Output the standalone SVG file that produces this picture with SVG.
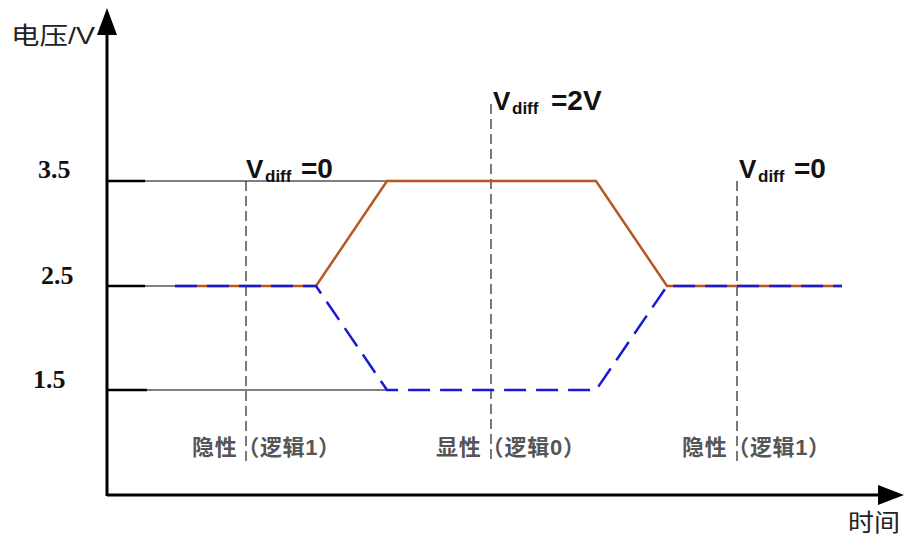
<svg xmlns="http://www.w3.org/2000/svg" width="904" height="535" viewBox="0 0 904 535">
<style>
.ax{stroke:#000;stroke-width:3;fill:none}
.grid{stroke:#000;stroke-width:1;fill:none}
.tick{stroke:#000;stroke-width:2.5}
.vd{stroke:#333;stroke-width:1.3;stroke-dasharray:10 5;fill:none}
.h{stroke:#b5591e;stroke-width:2.5;fill:none}
.l{stroke:#1a1ad6;stroke-width:2.5;stroke-dasharray:22 10;fill:none}
.num{font-family:"Liberation Serif",serif;font-weight:bold;font-size:26px;fill:#111}
.vdf{font-family:"Liberation Sans",Arial,sans-serif;font-weight:bold;font-size:26px;fill:#111}
.sub{font-size:17px}
.eq{font-size:28px}
.cn{font-family:"Liberation Sans","Noto Sans CJK SC",sans-serif;font-size:22px;font-weight:bold;fill:#555}
.ttl{font-family:"Liberation Sans","Noto Sans CJK SC",sans-serif;font-size:24px;fill:#222}
</style>
<g id="axes">
<line class="ax" x1="107" y1="496" x2="107" y2="30"/>
<polygon points="107,8 97,35 117,35" fill="#000"/>
<line class="ax" x1="107" y1="495" x2="880" y2="495"/>
<polygon points="904,495 878,485 878,505" fill="#000"/>
<text class="ttl" x="11" y="44" textLength="84" lengthAdjust="spacingAndGlyphs">电压/V</text>
<text class="ttl" x="848" y="531" textLength="52" lengthAdjust="spacingAndGlyphs">时间</text>
</g>
<g id="levels">
<line class="grid" x1="107" y1="181" x2="388" y2="181"/>
<line class="grid" x1="107" y1="286" x2="176" y2="286"/>
<line class="grid" x1="107" y1="390" x2="388" y2="390"/>
<line class="tick" x1="107" y1="181" x2="145" y2="181"/>
<line class="tick" x1="107" y1="286" x2="145" y2="286"/>
<line class="tick" x1="107" y1="390" x2="147" y2="390"/>
<text class="num" x="38" y="178">3.5</text>
<text class="num" x="41" y="284">2.5</text>
<text class="num" x="33" y="388">1.5</text>
</g>
<g id="markers">
<line class="vd" x1="246" y1="181" x2="246" y2="462"/>
<line class="vd" x1="491" y1="104" x2="491" y2="462"/>
<line class="vd" x1="737" y1="181" x2="737" y2="462"/>
<text class="vdf" y="178"><tspan x="246">V</tspan><tspan class="sub" x="265" y="182">diff</tspan><tspan class="eq" x="301" y="178">=0</tspan></text>
<text class="vdf" y="110"><tspan x="493">V</tspan><tspan class="sub" x="512" y="114">diff</tspan><tspan class="eq" x="551" y="110">=2V</tspan></text>
<text class="vdf" y="178"><tspan x="739">V</tspan><tspan class="sub" x="758" y="182">diff</tspan><tspan class="eq" x="794" y="178">=0</tspan></text>
</g>
<g id="signals">
<polyline class="h" points="175,286 316,286 387,181 596,181 667,286 842,286"/>
<polyline class="l" points="175,286 316,286 387,390 596,390 667,286 842,286"/>
</g>
<g id="labels">
<text class="cn" x="192" y="455" textLength="148" lengthAdjust="spacing">隐性（逻辑1）</text>
<text class="cn" x="436" y="455" textLength="149" lengthAdjust="spacing">显性（逻辑0）</text>
<text class="cn" x="682" y="455" textLength="148" lengthAdjust="spacing">隐性（逻辑1）</text>
</g>
</svg>
